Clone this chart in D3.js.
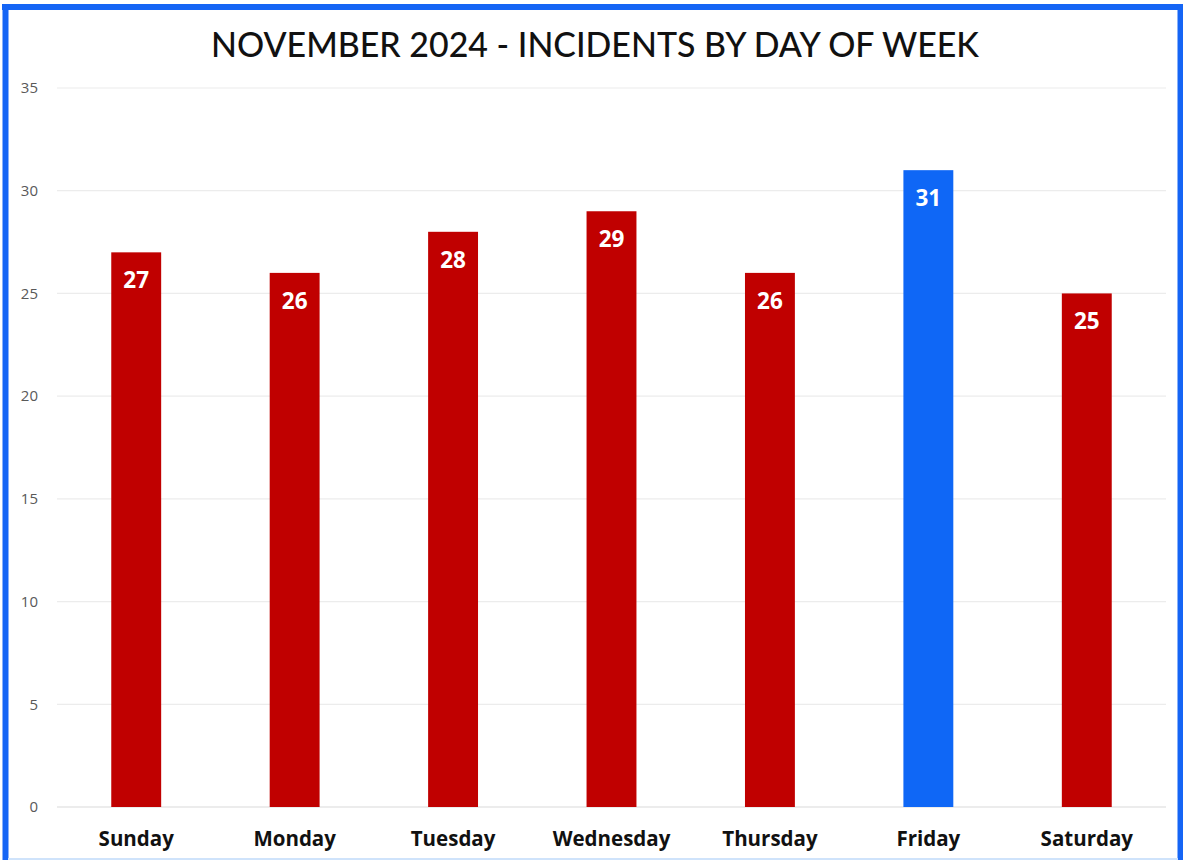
<!DOCTYPE html>
<html>
<head>
<meta charset="utf-8">
<script src="https://cdn.jsdelivr.net/npm/d3@7"></script>
<style>
  html, body { margin: 0; padding: 0; background: #fff; }
  svg { display: block; }
</style>
</head>
<body>
<svg id="chart" width="1183" height="860"></svg>
<script>
// Incidents per weekday, November 2024
const days = ["Sunday", "Monday", "Tuesday", "Wednesday", "Thursday", "Friday", "Saturday"];
const incidents = [27, 26, 28, 29, 26, 31, 25];
const yTicks = [0, 5, 10, 15, 20, 25, 30, 35];
const highlightDay = "Friday";

const svg = d3.select("#chart");
const W = 1183, H = 860;

// Frame: blue on top, left and right, faint along the bottom
const frame = svg.append("g").attr("stroke", "#1565f5").attr("stroke-width", 6);
frame.append("line").attr("x1", 2).attr("x2", 1183).attr("y1", 7).attr("y2", 7);
frame.append("line").attr("x1", 5.5).attr("x2", 5.5).attr("y1", 4).attr("y2", 860);
frame.append("line").attr("x1", 1180.5).attr("x2", 1180.5).attr("y1", 4).attr("y2", 860);
svg.append("line").attr("x1", 8).attr("x2", 1178).attr("y1", 859).attr("y2", 859)
  .attr("stroke", "#cfe3fb").attr("stroke-width", 2);

// Title
svg.append("text")
  .attr("x", 595).attr("y", 57)
  .attr("text-anchor", "middle")
  .attr("font-family", "Lato, sans-serif")
  .attr("font-weight", 500)
  .attr("font-size", 34)
  .attr("textLength", 768)
  .attr("lengthAdjust", "spacingAndGlyphs")
  .attr("fill", "#111")
  .text("NOVEMBER 2024 - INCIDENTS BY DAY OF WEEK");

const x = d3.scaleBand().domain(days).range([57, 1166]).paddingInner(0.685).paddingOuter(0.3425);
const y = d3.scaleLinear().domain([0, 35]).range([807, 88]);

// Gridlines
svg.append("g").selectAll("line").data(yTicks).join("line")
  .attr("x1", 57).attr("x2", 1166)
  .attr("y1", d => y(d)).attr("y2", d => y(d))
  .attr("stroke", d => d === 0 ? "#d9d9d9" : "#ececec")
  .attr("stroke-width", 1.2);

// Y axis labels
const yAxis = d3.axisLeft(y).tickValues(yTicks).tickSize(0).tickPadding(0);
const gy = svg.append("g").attr("transform", "translate(38,0)").call(yAxis);
gy.select(".domain").remove();
gy.selectAll("text")
  .attr("font-family", "'Open Sans', sans-serif")
  .attr("font-size", 15)
  .attr("fill", "#595959");

// Bars
svg.append("g").selectAll("rect").data(days).join("rect")
  .attr("x", d => x(d))
  .attr("width", x.bandwidth())
  .attr("y", (d, i) => y(incidents[i]))
  .attr("height", (d, i) => y(0) - y(incidents[i]))
  .attr("fill", d => d === highlightDay ? "#0f67f6" : "#c00000");

// Value labels inside bars
svg.append("g").selectAll("text").data(days).join("text")
  .attr("x", d => x(d) + x.bandwidth() / 2)
  .attr("y", (d, i) => y(incidents[i]) + 36)
  .attr("text-anchor", "middle")
  .attr("font-family", "'Open Sans', sans-serif")
  .attr("font-weight", 700)
  .attr("font-size", 22.5)
  .attr("fill", "#fff")
  .text((d, i) => incidents[i]);

// X axis labels
const xAxis = d3.axisBottom(x).tickSize(0).tickPadding(0);
const gx = svg.append("g").attr("transform", "translate(0,831)").call(xAxis);
gx.select(".domain").remove();
gx.selectAll("text")
  .attr("font-family", "'Open Sans', sans-serif")
  .attr("font-weight", 700)
  .attr("font-size", 20.5)
  .attr("fill", "#111");
</script>
</body>
</html>
